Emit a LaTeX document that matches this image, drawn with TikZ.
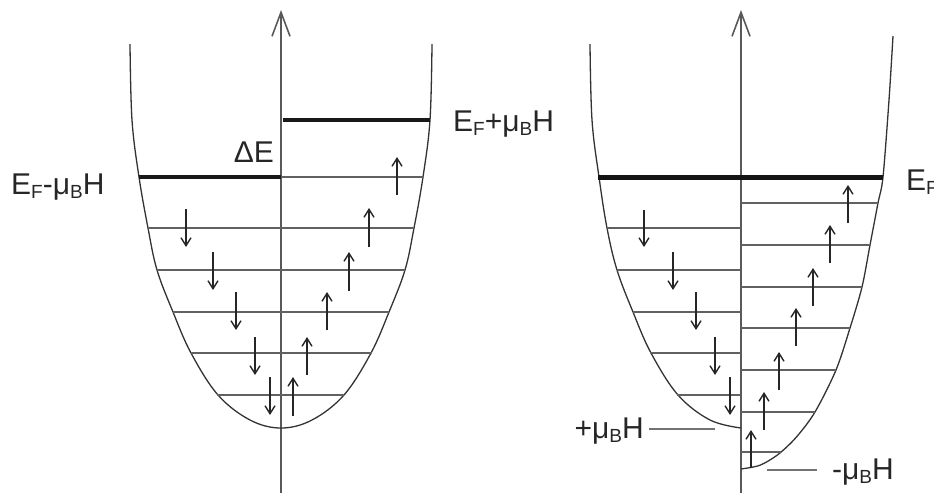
\documentclass[tikz,border=0pt]{standalone}
\usepackage{fontspec}
\setmainfont{Liberation Sans}
\usetikzlibrary{arrows.meta}
\newcommand\sbx[1]{\raisebox{-0.3ex}{\fontsize{19}{19}\selectfont #1}}
\begin{document}
\begin{tikzpicture}[x=1pt,y=-1pt,
  curve/.style={line width=1.3pt, draw=black!80},
  level/.style={line width=1.6pt, draw=black!62},
  fermi/.style={line width=4pt, draw=black!90},
  fermiB/.style={line width=5pt, draw=black!92},
  axis/.style={line width=1.8pt, draw=black!65, -{Straight Barb[length=24pt,width=18pt,line width=1.6pt]}},
  spin/.style={line width=1.4pt, draw=black!85, -{Straight Barb[length=8pt,width=10pt]}},
  lbl/.style={font=\fontsize{30}{34}\selectfont, text=black!85, inner sep=0pt},
  leader/.style={line width=2pt, draw=black!55}]
\useasboundingbox (0,0) rectangle (934,493);

% ---------- left diagram ----------
\coordinate (a1b) at (281,493);
\coordinate (a1t) at (281,10);
\draw[axis] (a1b) -- (a1t);
\draw[curve] plot[smooth, tension=0.6] coordinates {(130,44) (132,120) (139,177) (148,228) (157,270) (173,312) (191,353) (218,395) (250,420) (281,428) (312,420) (344,395) (371,353) (389,312) (405,270) (414,228) (423,177) (430,120) (432,44)};
% levels
\draw[fermi] (139,177) -- (281,177);
\draw[level] (281,177) -- (423,177);
\draw[fermi] (283,120) -- (430,120);
\foreach \y/\l/\r in {228/148/414, 270/157/405, 312/173/389, 353/191/372, 395/217/344}
  \draw[level] (\l,\y) -- (\r,\y);
% spins
\foreach \x/\a/\b in {186/209/247, 213/252/290, 236/292/330, 255/337/375, 270/377/415}
  \draw[spin] (\x,\a) -- (\x,\b);
\foreach \x/\a/\b in {397/195/157, 369/247/208, 349/291/252, 327/330/292, 307/375/337, 293/416/377}
  \draw[spin] (\x,\a) -- (\x,\b);
% labels
\node[lbl, anchor=base west] (efm) at (11,194) {E\sbx{F}-μ\sbx{B}H};
\node[lbl, anchor=base east] (de) at (274,162) {ΔE};
\node[lbl, anchor=base west] (efp) at (453,131) {E\sbx{F}+μ\sbx{B}H};

% ---------- right diagram ----------
\coordinate (a2b) at (741,493);
\coordinate (a2t) at (741,10);
\draw[axis] (a2b) -- (a2t);
\draw[curve] plot[smooth, tension=0.6] coordinates {(590,44) (592,120) (599,177) (607,228) (617,270) (633,312) (651,353) (678,395) (710,420) (741,428)};
\draw[curve] plot[smooth, tension=0.5] coordinates {(741,469) (760,465.2) (778,454.5) (796,437.5) (815,412) (836,370) (850,328) (862,287) (870,245) (878,203) (883,177) (889,100) (893,36)};
\draw[fermiB] (598,177) -- (883,177);
\foreach \y/\l in {228/607, 270/617, 312/633, 353/650, 395/677}
  \draw[level] (\l,\y) -- (741,\y);
\foreach \y/\r in {203/878, 245/871, 287/862, 328/850, 370/836, 412/815, 452/781}
  \draw[level] (741,\y) -- (\r,\y);
\foreach \x/\a/\b in {644/210/247, 673/252/290, 696/292/330, 715/337/375, 730/377/415}
  \draw[spin] (\x,\a) -- (\x,\b);
\foreach \x/\a/\b in {848/223/185, 830/263/225, 813/306/268, 796/346/308, 779/390/352, 764/430/392, 751/468/430}
  \draw[spin] (\x,\a) -- (\x,\b);
% labels
\node[lbl, anchor=base west] (ef) at (906,190) {E\sbx{F}};
\node[lbl, anchor=base east] (pmu) at (644,438) {+μ\sbx{B}H};
\coordinate (pmuE) at (715,429);
\draw[leader] (pmu.east |- pmuE) ++(5,0) -- (pmuE);
\node[lbl, anchor=base west] (mmu) at (832,479) {-μ\sbx{B}H};
\coordinate (mmuW) at (767,470);
\draw[leader] (mmuW) -- ([xshift=-15pt]mmu.west |- mmuW);
\end{tikzpicture}
\end{document}
